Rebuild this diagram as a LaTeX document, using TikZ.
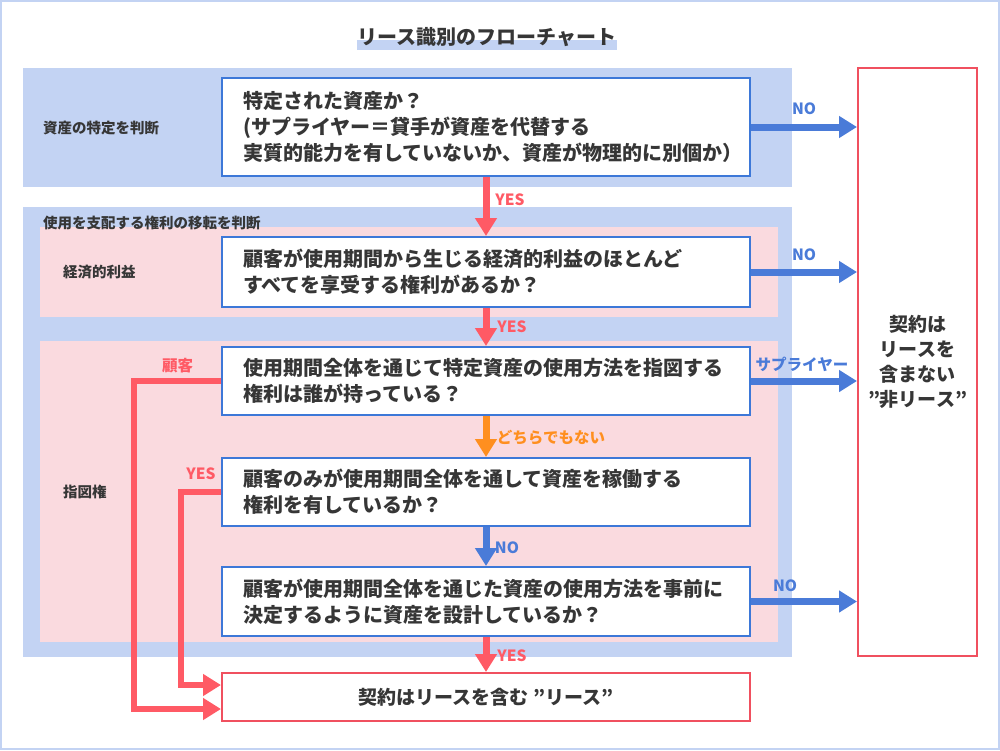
\documentclass[tikz,border=0pt]{standalone}
\usepackage{fontspec}
\setmainfont{Noto Sans CJK JP}
\usetikzlibrary{arrows.meta,calc}
\definecolor{bandblue}{HTML}{C3D3F3}
\definecolor{bandpink}{HTML}{FADADF}
\definecolor{boxblue}{HTML}{3D78D8}
\definecolor{arrblue}{HTML}{4A7BD8}
\definecolor{arrred}{HTML}{FF5A65}
\definecolor{arrorange}{HTML}{FF8F1F}
\definecolor{txt}{HTML}{363636}
\definecolor{boxred}{HTML}{F0505F}
\begin{document}
\begin{tikzpicture}[x=1pt,y=-1pt,
  qbox/.style={draw=boxblue, line width=2pt, fill=white, text width=486pt,
    inner xsep=21pt, inner ysep=0pt, minimum width=528pt, align=left,
    font=\fontsize{20}{26}\selectfont\bfseries, text=txt},
  endbox/.style={draw=boxred, line width=2pt, fill=white, inner sep=0pt, text=txt,
    font=\fontsize{19}{25}\selectfont\bfseries, align=center},
  grouplbl/.style={anchor=west, inner sep=0pt, text=txt, font=\fontsize{14.5}{16}\selectfont\bfseries},
  arrlbl/.style={inner sep=0pt, font=\fontsize{15.5}{16}\selectfont\bfseries},
  tipstyle/.style={-{Triangle[length=18pt,width=21pt]}},
  blarrow/.style={draw=arrblue, line width=7pt, tipstyle},
  rdarrow/.style={draw=arrred, line width=7pt, tipstyle},
  orarrow/.style={draw=arrorange, line width=7pt, tipstyle},
  rdline/.style={draw=arrred, line width=6pt, line join=miter, tipstyle},
]
\useasboundingbox (0,0) rectangle (1000,750);
% outer frame
\draw[bandblue, line width=2pt] (1,1) rectangle (999,749);
% title
\fill[bandblue] (357,40) rectangle (617,50);
\node[inner sep=0pt, text=txt, font=\fontsize{20}{20}\selectfont\bfseries] (title) at (487,37) {リース識別のフローチャート};
% bands
\fill[bandblue] (23,68) rectangle (792,187);
\fill[bandblue] (23,207) rectangle (792,657);
\fill[bandpink] (40,227) rectangle (778,317);
\fill[bandpink] (40,341) rectangle (778,642);
% group labels
\node[grouplbl] (g1) at (43,128) {資産の特定を判断};
\node[grouplbl] (g2) at (43,223) {使用を支配する権利の移転を判断};
\node[grouplbl] (g3) at (63,272) {経済的利益};
\node[grouplbl] (g4) at (63,492) {指図権};
% question boxes
\node[qbox, minimum height=98pt] (b1) at (486,127) {特定された資産か？\\(サプライヤー＝貸手が資産を代替する\\実質的能力を有していないか、資産が物理的に別個か）};
\node[qbox, minimum height=70pt] (b2) at (486,272) {顧客が使用期間から生じる経済的利益のほとんど\\すべてを享受する権利があるか？};
\node[qbox, minimum height=68pt] (b3) at (486,381) {使用期間全体を通じて特定資産の使用方法を指図する\\権利は誰が持っている？};
\node[qbox, minimum height=68pt] (b4) at (486,492) {顧客のみが使用期間全体を通して資産を稼働する\\権利を有しているか？};
\node[qbox, minimum height=69pt] (b5) at (486,601.5) {顧客が使用期間全体を通じた資産の使用方法を事前に\\決定するように資産を設計しているか？};
% result boxes
\node[endbox, minimum width=528pt, minimum height=48pt] (b6) at (486,697) {契約はリースを含む ”リース”};
\node[endbox, minimum width=119pt, minimum height=588pt] (rb) at (917.5,362) {契約は\\リースを\\含まない\\”非リース”};
% NO arrows to the right
\draw[blarrow] (b1.east) -- (b1.east -| rb.west) node[arrlbl, text=arrblue, midway, yshift=18pt] {NO};
\draw[blarrow] (b2.east) -- (b2.east -| rb.west) node[arrlbl, text=arrblue, midway, yshift=17pt] {NO};
\draw[blarrow] (b3.east) -- (b3.east -| rb.west) node[arrlbl, text=arrblue, midway, xshift=-2pt, yshift=17pt] {サプライヤー};
\draw[blarrow] (b5.east) -- (b5.east -| rb.west) node[arrlbl, text=arrblue, midway, xshift=-19pt, yshift=16pt] {NO};
% vertical arrows
\draw[rdarrow] (b1.south) -- (b2.north) node[arrlbl, text=arrred, midway, xshift=24pt, yshift=7pt] {YES};
\draw[rdarrow] (b2.south) -- (b3.north) node[arrlbl, text=arrred, midway, xshift=26pt, yshift=0pt] {YES};
\draw[orarrow] (b3.south) -- (b4.north) node[arrlbl, text=arrorange, midway, xshift=65pt, yshift=-1pt] {どちらでもない};
\draw[blarrow] (b4.south) -- (b5.north) node[arrlbl, text=arrblue, midway, xshift=21pt, yshift=-1pt] {NO};
\draw[rdarrow] (b5.south) -- (b6.north) node[arrlbl, text=arrred, midway, xshift=26pt, yshift=-1pt] {YES};
% red elbow connectors
\draw[rdline] (b3.west) -- ++(-87,0) node[arrlbl, text=arrred, midway, yshift=15pt] {顧客} |- ([yshift=-12pt]b6.west);
\draw[rdline] (b4.west) -- ++(-40,0) node[arrlbl, text=arrred, midway, yshift=18pt] {YES} |- ([yshift=12pt]b6.west);
\end{tikzpicture}
\end{document}
